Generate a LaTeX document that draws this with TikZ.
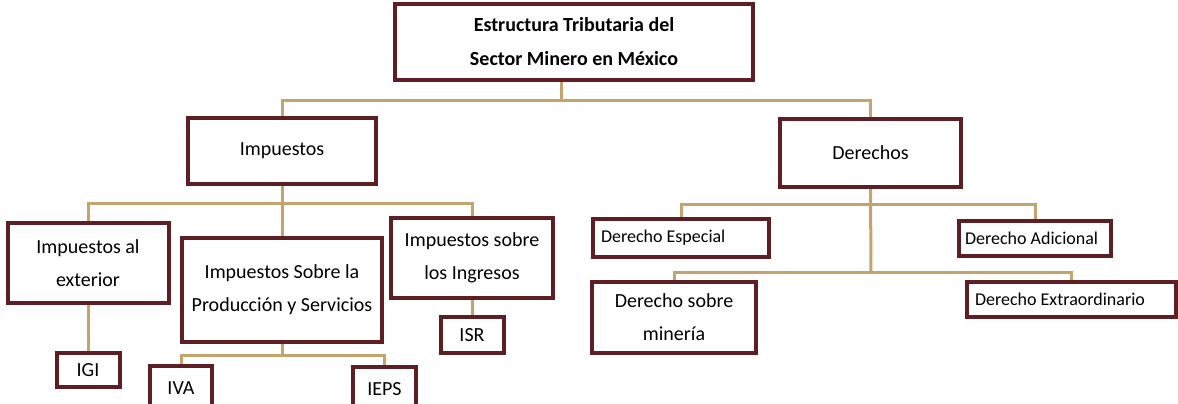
\documentclass[tikz,border=0pt]{standalone}
\usepackage{fontspec}
\setmainfont{Carlito}
\usetikzlibrary{backgrounds}
\definecolor{boxred}{HTML}{5E1F24}
\definecolor{linetan}{HTML}{C6A26C}
\begin{document}
\begin{tikzpicture}[x=0.5pt, y=-0.5pt,
    box/.style={draw=boxred, line width=2pt, fill=white, align=center,
                inner sep=0pt, font=\fontsize{10}{16.5}\selectfont},
    leftbox/.style={box, align=flush left, inner xsep=4pt,
                    font=\fontsize{9}{11}\selectfont},
    conn/.style={draw=linetan, line width=1.5pt}
  ]
  \useasboundingbox (0,0) rectangle (1178,403);

  % top
  \node[box, minimum width=179pt, minimum height=38pt,
        font=\bfseries\fontsize{10}{17}\selectfont] (title) at (574,42)
        {Estructura Tributaria del\\Sector Minero en México};

  % second level
  \node[box, minimum width=94pt, minimum height=33pt] (imp) at (282,151) {Impuestos};
  \node[box, minimum width=90.5pt, minimum height=34pt] (der) at (870.5,153) {Derechos};

  % impuestos
  \node[box, minimum width=80.5pt, minimum height=40pt] (ext) at (88,263) {Impuestos al\\exterior};
  \node[box, minimum width=100pt, minimum height=52pt] (prod) at (282,290) {Impuestos Sobre la\\Producción y Servicios};
  \node[box, minimum width=81pt, minimum height=40pt] (ing) at (472,258) {Impuestos sobre\\los Ingresos};
  \node[box, minimum width=31.5pt, minimum height=17pt] (igi) at (88,370) {IGI};
  \node[box, minimum width=31.5pt, minimum height=18pt] (isr) at (472,335) {ISR};
  \node[box, minimum width=31pt, minimum height=22pt] (iva) at (181,388) {IVA};
  \node[box, minimum width=31.5pt, minimum height=22pt] (ieps) at (384.5,389) {IEPS};

  % derechos
  \node[leftbox, text width=80pt, minimum height=19pt] (esp) at (681,238) {Derecho Especial};
  \node[leftbox, inner xsep=3pt, text width=70pt, minimum height=17.5pt] (adi) at (1035,238.5) {Derecho Adicional};
  \node[box, minimum width=82pt, minimum height=35.5pt] (min) at (674,317.5) {Derecho sobre\\minería};
  \node[leftbox, text width=96.5pt, minimum height=17.5pt] (extra) at (1071.5,299.5) {Derecho Extraordinario};

  % joints
  \coordinate (j0) at (561,100);
  \coordinate (j1) at (282,203);
  \coordinate (j2) at (282,355);
  \coordinate (j3) at (871,204);
  \coordinate (j4) at (871,272);

  \begin{scope}[on background layer]
    \draw[conn] (j0 |- title.south) -- (j0);
    \draw[conn] (imp.north) |- (j0) -| (der.north);
    \draw[conn] (imp.south) -- (prod.north);
    \draw[conn] (ext.north) |- (j1) -| (ing.north);
    \draw[conn] (ext.south) -- (igi.north);
    \draw[conn] (ing.south) -- (isr.north);
    \draw[conn] (prod.south) -- (j2);
    \draw[conn] (iva.north) |- (j2) -| (ieps.north);
    \draw[conn] (der.south) -- (j4);
    \draw[conn] (esp.north) |- (j3) -| (adi.north);
    \draw[conn] (min.north) |- (j4) -| (extra.north);
  \end{scope}
\end{tikzpicture}
\end{document}
